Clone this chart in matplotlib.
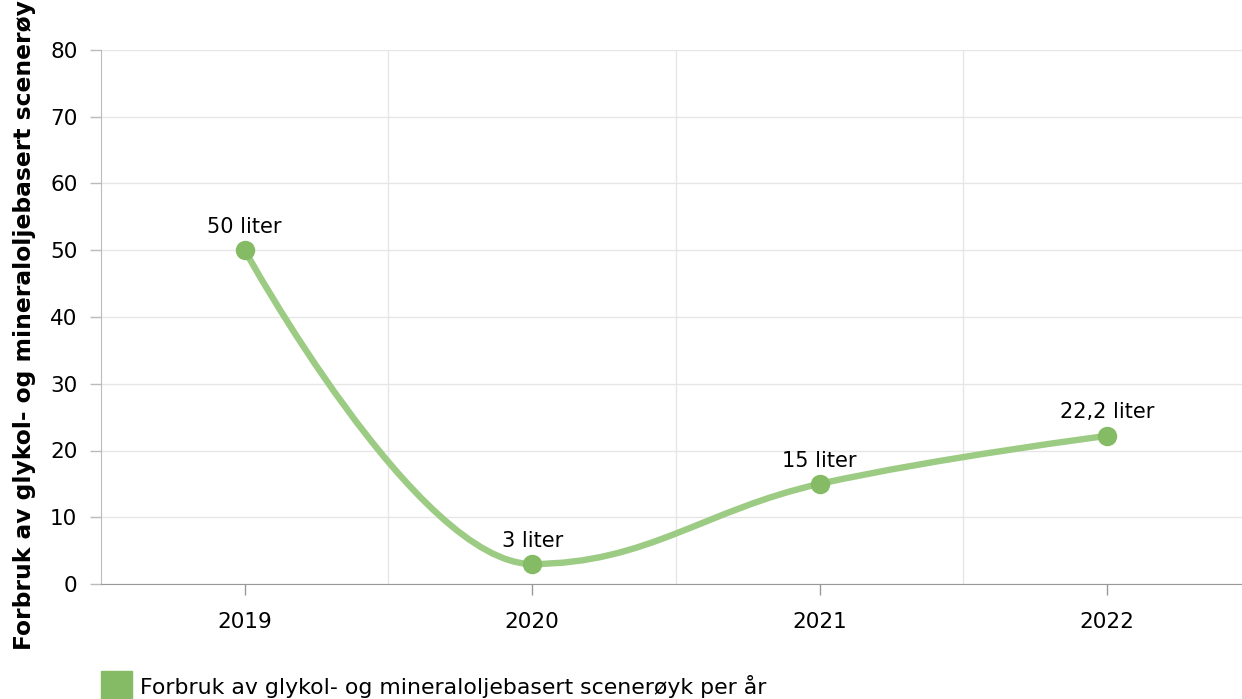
import numpy as np
import matplotlib
matplotlib.use('Agg')
import matplotlib.pyplot as plt
from matplotlib.path import Path
from matplotlib.patches import PathPatch, Rectangle

plt.rcParams['font.family'] = ['DejaVu Sans']
plt.rcParams['font.size'] = 15

# data
years = ['2019', '2020', '2021', '2022']
values = [50, 3, 15, 22.2]
labels = ['50 liter', '3 liter', '15 liter', '22,2 liter']
y_title = 'Forbruk av glykol- og mineraloljebasert scenerøyk'
series_name = 'Forbruk av glykol- og mineraloljebasert scenerøyk per år'

line_col = '#9ccb83'
mark_col = '#85bb65'


def spline_path(xs, ys, smoothing=1.5):
    # highcharts-style spline: cubic bezier between points
    n = len(xs)
    lc = [(xs[i], ys[i]) for i in range(n)]
    rc = [(xs[i], ys[i]) for i in range(n)]
    d = smoothing + 1
    for i in range(1, n - 1):
        px, py = xs[i], ys[i]
        lx, ly = xs[i - 1], ys[i - 1]
        nx, ny = xs[i + 1], ys[i + 1]
        lcx = (smoothing * px + lx) / d
        lcy = (smoothing * py + ly) / d
        rcx = (smoothing * px + nx) / d
        rcy = (smoothing * py + ny) / d
        if rcx != lcx:
            corr = (rcy - lcy) * (rcx - px) / (rcx - lcx) + py - rcy
            lcy += corr
            rcy += corr
        if lcy > ly and lcy > py:
            lcy = max(ly, py)
            rcy = 2 * py - lcy
        elif lcy < ly and lcy < py:
            lcy = min(ly, py)
            rcy = 2 * py - lcy
        if rcy > ny and rcy > py:
            rcy = max(ny, py)
            lcy = 2 * py - rcy
        elif rcy < ny and rcy < py:
            rcy = min(ny, py)
            lcy = 2 * py - rcy
        lc[i] = (lcx, lcy)
        rc[i] = (rcx, rcy)
    verts = [(xs[0], ys[0])]
    codes = [Path.MOVETO]
    for i in range(1, n):
        verts += [rc[i - 1], lc[i], (xs[i], ys[i])]
        codes += [Path.CURVE4] * 3
    return Path(verts, codes)


fig = plt.figure(figsize=(12.42, 6.99), dpi=100)
ax = fig.add_axes([101 / 1242, 1 - 584 / 699, 1 - 101 / 1242, 534 / 699])

x = np.arange(len(years))
ax.add_patch(PathPatch(spline_path(x, values), fill=False, edgecolor=line_col,
                       lw=4.6, capstyle='round', joinstyle='round', zorder=3))
ax.plot(x, values, 'o', color=mark_col, ms=13, zorder=4)

for xi, v, s in zip(x, values, labels):
    ax.annotate(s, (xi, v), xytext=(0, 12.5), textcoords='offset points',
                ha='center', va='baseline', fontsize=15, color='black')

ax.set_xlim(-0.5, 3.469)
ax.set_ylim(0, 80)
ax.set_xticks(x)
ax.set_xticklabels(years)
ax.set_xticks([0.5, 1.5, 2.5], minor=True)
ax.set_yticks(np.arange(0, 81, 10))

ax.grid(axis='y', which='major', color='#e6e6e6', lw=1)
ax.grid(axis='x', which='minor', color='#e6e6e6', lw=1)
ax.set_axisbelow(True)

ax.tick_params(axis='x', which='major', length=8, width=1, color='#999999',
               pad=12, labelsize=15.5)
ax.tick_params(axis='x', which='minor', length=0)
ax.tick_params(axis='y', length=8, width=1, color='#bbbbbb', pad=9, labelsize=15.5)

for s in ['top', 'right']:
    ax.spines[s].set_visible(False)
ax.spines['left'].set_color('#bbbbbb')
ax.spines['bottom'].set_color('#999999')

fig.text(24 / 1242, 1 - 650 / 699, y_title, rotation=90, rotation_mode='anchor',
         ha='left', va='center', fontsize=16.8, fontweight='bold')

# legend: square + text
fig.patches.append(Rectangle((101 / 1242, 1 - 702 / 699), 31 / 1242, 31 / 699,
                             transform=fig.transFigure, color=mark_col))
fig.text(140 / 1242, 1 - 686 / 699, series_name, ha='left', va='center',
         fontsize=15.8)

plt.savefig('out.png', dpi=100)
